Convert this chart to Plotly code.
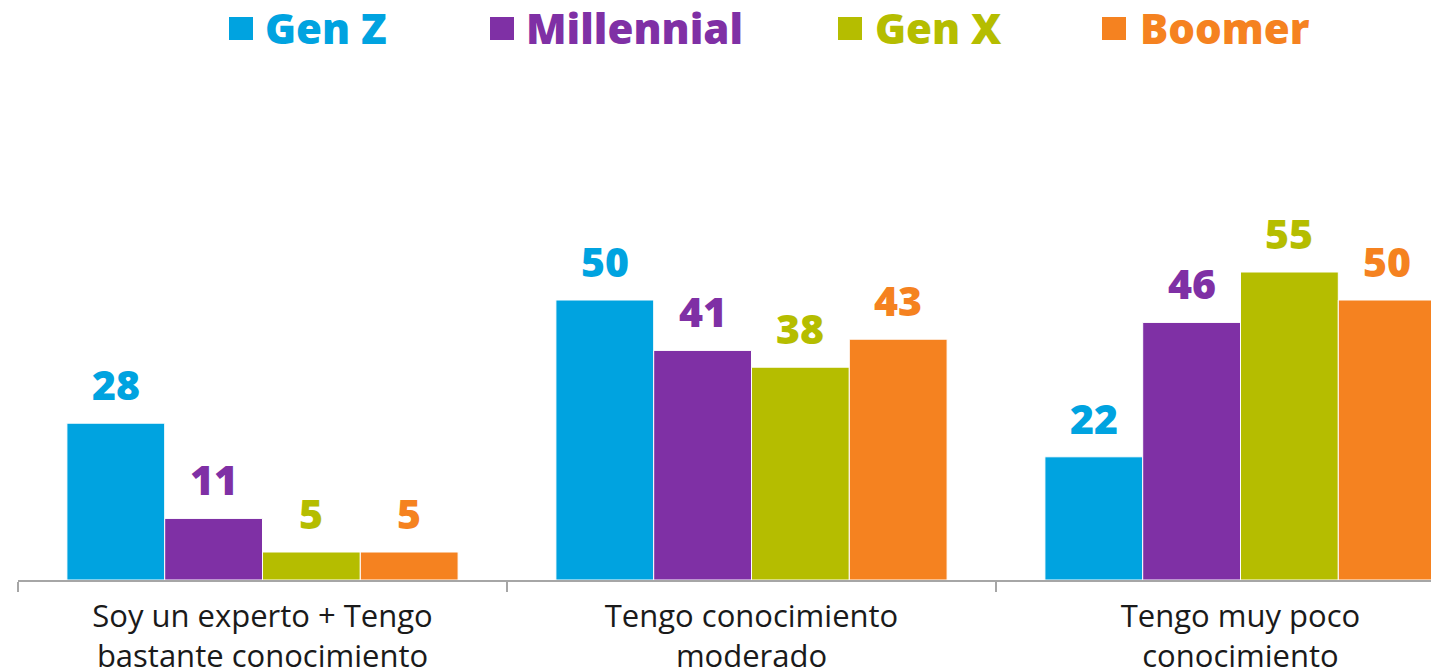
import plotly.graph_objects as go

categories = ["Soy un experto + Tengo<br>bastante conocimiento",
              "Tengo conocimiento<br>moderado",
              "Tengo muy poco<br>conocimiento"]
series_names = ["Gen Z", "Millennial", "Gen X", "Boomer"]
gen_z = [28, 50, 22]
millennial = [11, 41, 46]
gen_x = [5, 38, 55]
boomer = [5, 43, 50]
series_values = [gen_z, millennial, gen_x, boomer]
colors = ["#00A3E0", "#7F30A5", "#B5BD00", "#F58220"]

OFF = 8  # page body margin
W, H = 1439 - OFF, 670 - OFF
ML, MR, MT, MB = 18 - OFF, 0, 80 - OFF, 90
PW, PH = W - ML - MR, H - MT - MB
CAT_PX = 489.0
YMAX = PH / 5.6

def px_x(px):  # screen px -> paper
    return (px - OFF - ML) / PW

def px_y(py):
    return (H - MB - (py - OFF)) / PH

fig = go.Figure()
for name, vals, col in zip(series_names, series_values, colors):
    fig.add_trace(go.Bar(
        x=categories, y=vals, name=name,
        marker=dict(color=col, line=dict(color="white", width=1)),
        showlegend=False, hoverinfo="skip",
    ))

bar_px = CAT_PX * 0.8 / 4
font_b = "Open Sans"
for i, (vals, col) in enumerate(zip(series_values, colors)):
    for c, v in zip(categories, vals):
        fig.add_annotation(
            x=c, y=v, xref="x", yref="y", text=str(v), showarrow=False,
            xanchor="center", yanchor="bottom",
            xshift=(i - 1.5) * bar_px, yshift=9,
            font=dict(family=font_b, size=41, color=col, weight=800),
        )

# manual legend
sq_left = [229, 490, 838, 1102]
txt_left = [263, 524, 873, 1138]
for name, col, sl, tl in zip(series_names, colors, sq_left, txt_left):
    fig.add_shape(type="rect", xref="paper", yref="paper",
                  x0=px_x(sl), x1=px_x(sl + 24), y0=px_y(40), y1=px_y(17),
                  fillcolor=col, line=dict(width=0))
    fig.add_annotation(x=px_x(tl), y=px_y(28), xref="paper", yref="paper",
                       text=name, showarrow=False, xanchor="left", yanchor="middle",
                       font=dict(family=font_b, size=42, color=col, weight=800))

fig.update_layout(
    width=W, height=H,
    margin=dict(l=ML, r=MR, t=MT, b=MB, autoexpand=False),
    paper_bgcolor="white", plot_bgcolor="white",
    barmode="group", bargap=0.2, bargroupgap=0,
    xaxis=dict(
        range=[-0.5, -0.5 + PW / CAT_PX], automargin=False,
        showline=True, linecolor="#A6A6A6", linewidth=1.5,
        ticks="outside", tickson="boundaries", ticklen=10, tickcolor="#A6A6A6",
        tickwidth=1.5, showgrid=False, ticklabelstandoff=8,
        tickfont=dict(family="Open Sans", size=31, color="#1A1A1A"),
    ),
    yaxis=dict(range=[0, YMAX], visible=False, showgrid=False, automargin=False),
)

fig.write_html("out.html")
